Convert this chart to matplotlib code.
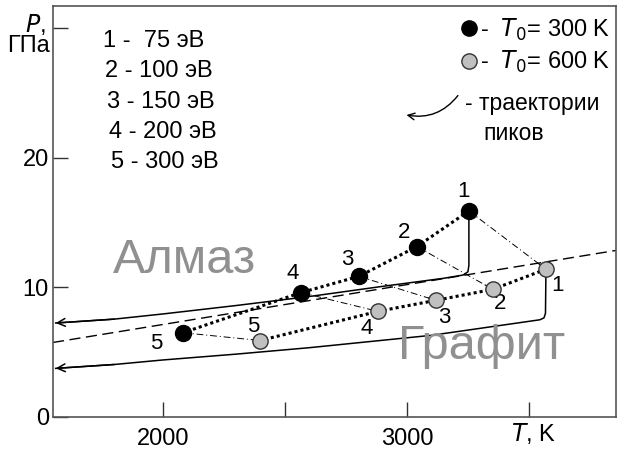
import matplotlib.pyplot as plt

plt.rcParams['font.family'] = ['Liberation Sans', 'DejaVu Sans']

# peak positions, T0 = 300 K (black) and T0 = 600 K (gray), energies 1..5
T_300 = [3254, 3041, 2803, 2566, 2082]
P_300 = [15.9, 13.15, 10.85, 9.6, 6.5]
T_600 = [3570, 3352, 3119, 2881, 2398]
P_600 = [11.4, 9.85, 9.0, 8.15, 5.9]
point_labels = ['1', '2', '3', '4', '5']
energies = ['1 -  75 эВ', '2 - 100 эВ', '3 - 150 эВ', '4 - 200 эВ', '5 - 300 эВ']

# graphite / diamond boundary
T_line = [1549, 3857]
P_line = [5.75, 12.85]

# peak trajectories
T_traj1 = [3254, 3254, 3250, 3230, 3150, 2889, 2602, 2300, 2000, 1800, 1560]
P_traj1 = [15.9, 11.7, 11.2, 10.95, 10.7, 10.05, 9.3, 8.6, 7.95, 7.55, 7.25]
T_traj2 = [3570, 3568, 3562, 3545, 3100, 2602, 2300, 2000, 1800, 1560]
P_traj2 = [11.4, 8.0, 7.65, 7.5, 6.3, 5.35, 4.85, 4.4, 4.05, 3.75]

fig = plt.figure(figsize=(6.2, 4.53), dpi=100)
ax = fig.add_axes([0.0855, 0.0795, 0.908, 0.907])
ax.set_xlim(1549, 3857)
ax.set_ylim(0, 31.7)

# boundary line
ax.plot(T_line, P_line, color='black', lw=1.0, dashes=(8, 4))

# trajectories with arrows
for tt, pp in [(T_traj1, P_traj1), (T_traj2, P_traj2)]:
    ax.plot(tt, pp, color='black', lw=1.1)
    ax.annotate('', xy=(tt[-1], pp[-1]), xytext=(tt[-2], pp[-2]),
                arrowprops=dict(arrowstyle='->', color='black', lw=1.1,
                                mutation_scale=14, shrinkA=0, shrinkB=0))

# dash-dot connections between the two series
for i in range(5):
    ax.plot([T_300[i], T_600[i]], [P_300[i], P_600[i]], color='black',
            lw=0.7, linestyle=(0, (7, 3, 1, 3)))
    ax.annotate('', xy=(T_600[i], P_600[i]),
                xytext=(T_300[i] + 0.9 * (T_600[i] - T_300[i]),
                        P_300[i] + 0.9 * (P_600[i] - P_300[i])),
                arrowprops=dict(arrowstyle='-|>', color='black', lw=0.7,
                                mutation_scale=8, shrinkA=0, shrinkB=0))

# dotted series lines
ax.plot(T_300, P_300, color='black', lw=2.2, linestyle=(0, (1, 1)))
ax.plot(T_600, P_600, color='black', lw=2.2, linestyle=(0, (1, 1)))

ax.plot(T_300, P_300, 'o', color='black', ms=11.5, zorder=5)
ax.plot(T_600, P_600, 'o', mfc='#c0c0c0', mec='#333333', mew=1.0, ms=11, zorder=5)

off_300 = [(-4, 14), (-9, 10), (-8, 12), (-6, 14), (-19, -8)]
off_600 = [(8, -12), (5, -10), (6, -12), (-8, -12), (-5, 10)]
for i in range(5):
    ax.annotate(point_labels[i], (T_300[i], P_300[i]), xytext=off_300[i],
                textcoords='offset points', ha='center', va='center', fontsize=16)
    ax.annotate(point_labels[i], (T_600[i], P_600[i]), xytext=off_600[i],
                textcoords='offset points', ha='center', va='center', fontsize=16)

# phase names
ax.text(2090, 11.1, 'Алмаз', color='#909090', fontsize=35, ha='center', va='baseline')
ax.text(3308, 4.5, 'Графит', color='#909090', fontsize=35, ha='center', va='baseline')

# energy list
for i, s in enumerate(energies):
    ax.text(1754 + i * 8, 29.0 - i * 2.33, s, fontsize=17, va='center', ha='left')

# legend at upper right
ax.plot([3254], [30.0], 'o', color='black', ms=11)
ax.plot([3254], [27.5], 'o', mfc='#c0c0c0', mec='#333333', mew=1.0, ms=11)
ax.text(3300, 29.9, '-  $T_0$= 300 K', fontsize=17, va='center', ha='left')
ax.text(3300, 27.4, '-  $T_0$= 600 K', fontsize=17, va='center', ha='left')
ax.annotate('', xy=(2998, 23.3), xytext=(3209, 24.8),
            arrowprops=dict(arrowstyle='->', color='black', lw=1.0,
                            connectionstyle='arc3,rad=-0.3', mutation_scale=12,
                            shrinkA=0, shrinkB=0))
ax.text(3240, 24.2, '- траектории', fontsize=16.5, va='center', ha='left')
ax.text(3312, 21.9, 'пиков', fontsize=16.5, va='center', ha='left')

# axes styling
ax.set_xticks([2000, 2500, 3000, 3500])
ax.set_xticklabels(['2000', '', '3000', ''])
ax.set_yticks([0, 10, 20, 30])
ax.set_yticklabels(['0', '10', '20', ''])
ax.tick_params(direction='in', length=11, width=1.0, labelsize=17, color='#333333')
ax.tick_params(axis='x', pad=8)
ax.tick_params(axis='y', pad=3)
for sp in ax.spines.values():
    sp.set_color('#555555')
    sp.set_linewidth(1.2)

fig.text(0.074, 0.945, '$P$,', fontsize=17, ha='right', va='center')
fig.text(0.08, 0.898, 'ГПа', fontsize=17, ha='right', va='center')
fig.text(0.861, 0.042, '$T$, K', fontsize=17, ha='center', va='center')

fig.savefig('out.png', dpi=100)
